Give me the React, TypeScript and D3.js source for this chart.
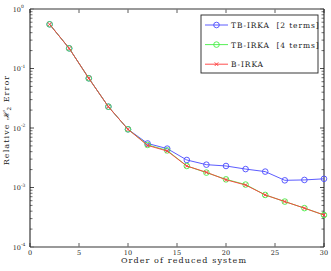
import React, { useRef, useEffect } from 'react';
import * as d3 from 'd3';

// reduced system order
const orders = [2, 4, 6, 8, 10, 12, 14, 16, 18, 20, 22, 24, 26, 28, 30];

const tbIrka2 = [0.553, 0.218, 0.0684, 0.0228, 0.0095, 0.0055, 0.0045, 0.0029, 0.00242, 0.0023, 0.00204, 0.00185, 0.00132, 0.00134, 0.0014];
const tbIrka4 = [0.553, 0.218, 0.0684, 0.0228, 0.0095, 0.0052, 0.0042, 0.0023, 0.00178, 0.00137, 0.00112, 0.00075, 0.00058, 0.00045, 0.000345];
const bIrka = [0.553, 0.218, 0.0684, 0.0228, 0.0095, 0.0051, 0.0041, 0.0023, 0.0018, 0.00135, 0.0011, 0.00075, 0.00058, 0.00045, 0.000345];

const xTicks = [0, 5, 10, 15, 20, 25, 30];
const yDecades = [0, -1, -2, -3, -4];

const seriesNames = ['TB-IRKA  [2 terms]', 'TB-IRKA  [4 terms]', 'B-IRKA'];
const seriesColors = ['#4a4aff', '#44ee44', '#ff3a3a'];

const W = 331;
const H = 271;
const FONT = '"DejaVu Serif", "Liberation Serif", serif';

const App: React.FC = () => {
  const svgRef = useRef<SVGSVGElement>(null);

  useEffect(() => {
    if (!svgRef.current) return;
    const svg = d3.select(svgRef.current);
    svg.selectAll('*').remove();

    const left = 30, right = 324, top = 9, bottom = 247;
    const x = d3.scaleLinear().domain([0, 30]).range([left, right]);
    const y = d3.scaleLog().domain([1e-4, 1]).range([bottom, top]);

    // minor y ticks
    const minor: number[] = [];
    for (let d = -4; d < 0; d++) {
      for (let k = 2; k <= 9; k++) minor.push(k * Math.pow(10, d));
    }
    const g = svg.append('g');
    minor.forEach(v => {
      g.append('line').attr('x1', left).attr('x2', left + 2.5).attr('y1', y(v)).attr('y2', y(v)).attr('stroke', '#333').attr('stroke-width', 0.7);
      g.append('line').attr('x1', right).attr('x2', right - 2.5).attr('y1', y(v)).attr('y2', y(v)).attr('stroke', '#333').attr('stroke-width', 0.7);
    });
    yDecades.forEach(d => {
      const v = Math.pow(10, d);
      g.append('line').attr('x1', left).attr('x2', left + 4).attr('y1', y(v)).attr('y2', y(v)).attr('stroke', '#222').attr('stroke-width', 0.8);
      g.append('line').attr('x1', right).attr('x2', right - 4).attr('y1', y(v)).attr('y2', y(v)).attr('stroke', '#222').attr('stroke-width', 0.8);
      const t = g.append('text').attr('x', 21).attr('y', y(v) + 2.5).attr('text-anchor', 'end')
        .attr('font-family', FONT).attr('font-size', 6.5).attr('fill', '#222');
      t.append('tspan').text('10');
      const sup = g.append('text').attr('x', 21).attr('y', y(v) - 1).attr('font-family', FONT)
        .attr('font-size', 4.5).attr('fill', '#222');
      sup.text(d === 0 ? '0' : `${d}`);
    });
    xTicks.forEach(v => {
      g.append('line').attr('x1', x(v)).attr('x2', x(v)).attr('y1', bottom).attr('y2', bottom - 4).attr('stroke', '#333').attr('stroke-width', 0.8);
      g.append('line').attr('x1', x(v)).attr('x2', x(v)).attr('y1', top).attr('y2', top + 4).attr('stroke', '#333').attr('stroke-width', 0.8);
      g.append('text').attr('x', x(v)).attr('y', bottom + 8).attr('text-anchor', 'middle')
        .attr('font-family', FONT).attr('font-size', 6.5).attr('fill', '#222').text(v);
    });

    // box
    g.append('line').attr('x1', left).attr('x2', right).attr('y1', bottom).attr('y2', bottom).attr('stroke', '#777').attr('stroke-width', 1.4);
    g.append('line').attr('x1', left).attr('x2', right).attr('y1', top).attr('y2', top).attr('stroke', '#777').attr('stroke-width', 1.4);
    g.append('line').attr('x1', left).attr('x2', left).attr('y1', top).attr('y2', bottom).attr('stroke', '#111').attr('stroke-width', 1);
    g.append('line').attr('x1', right).attr('x2', right).attr('y1', top).attr('y2', bottom).attr('stroke', '#111').attr('stroke-width', 1);

    const line = d3.line<[number, number]>().x(d => x(d[0])).y(d => y(d[1]));
    const allSeries = [tbIrka2, tbIrka4, bIrka];

    const drawMarker = (sel: d3.Selection<SVGGElement, unknown, null, undefined>, i: number, cx: number, cy: number) => {
      if (i < 2) {
        sel.append('circle').attr('cx', cx).attr('cy', cy).attr('r', 2.8).attr('fill', 'none')
          .attr('stroke', seriesColors[i]).attr('stroke-width', 0.9);
      } else {
        const s = 1.8;
        sel.append('path').attr('d', `M${cx - s},${cy - s}L${cx + s},${cy + s}M${cx - s},${cy + s}L${cx + s},${cy - s}`)
          .attr('stroke', seriesColors[i]).attr('stroke-width', 0.9);
      }
    };

    allSeries.forEach((vals, i) => {
      const pts = orders.map((o, j) => [o, vals[j]] as [number, number]);
      const sg = svg.append('g');
      sg.append('path').attr('d', line(pts)).attr('fill', 'none').attr('stroke', seriesColors[i]).attr('stroke-width', 0.9);
      pts.forEach(p => drawMarker(sg, i, x(p[0]), y(p[1])));
    });

    // legend
    const lg = svg.append('g');
    lg.append('rect').attr('x', 201).attr('y', 15).attr('width', 117).attr('height', 58)
      .attr('fill', 'white').attr('stroke', '#222').attr('stroke-width', 0.9);
    seriesNames.forEach((name, i) => {
      const ly = 25 + i * 19.6;
      lg.append('line').attr('x1', 205).attr('x2', 228).attr('y1', ly).attr('y2', ly)
        .attr('stroke', seriesColors[i]).attr('stroke-width', 0.9);
      drawMarker(lg, i, 216.5, ly);
      lg.append('text').attr('x', 231).attr('y', ly + 3).attr('font-family', FONT)
        .attr('font-size', 7.5).attr('letter-spacing', 0.9).attr('fill', '#222')
        .attr('xml:space', 'preserve').style('white-space', 'pre').text(name);
    });

    // axis labels
    svg.append('text').attr('x', 184).attr('y', 263).attr('text-anchor', 'middle')
      .attr('font-family', FONT).attr('font-size', 8).attr('letter-spacing', 1.1).attr('fill', '#222')
      .text('Order of reduced system');

    const yl = svg.append('text').attr('transform', 'translate(9,120) rotate(-90)').attr('text-anchor', 'middle')
      .attr('font-family', FONT).attr('font-size', 8).attr('letter-spacing', 1.1).attr('fill', '#222');
    yl.append('tspan').text('Relative ');
    yl.append('tspan').attr('font-style', 'italic').text('ℋ');
    yl.append('tspan').attr('font-size', 5.5).attr('dy', 2).text('2');
    yl.append('tspan').attr('dy', -2).text(' Error');
  }, []);

  return (
    <div>
      <svg ref={svgRef} width={W} height={H} style={{ position: 'absolute', left: 0, top: 0, background: 'white' }} />
    </div>
  );
};

export default App;
